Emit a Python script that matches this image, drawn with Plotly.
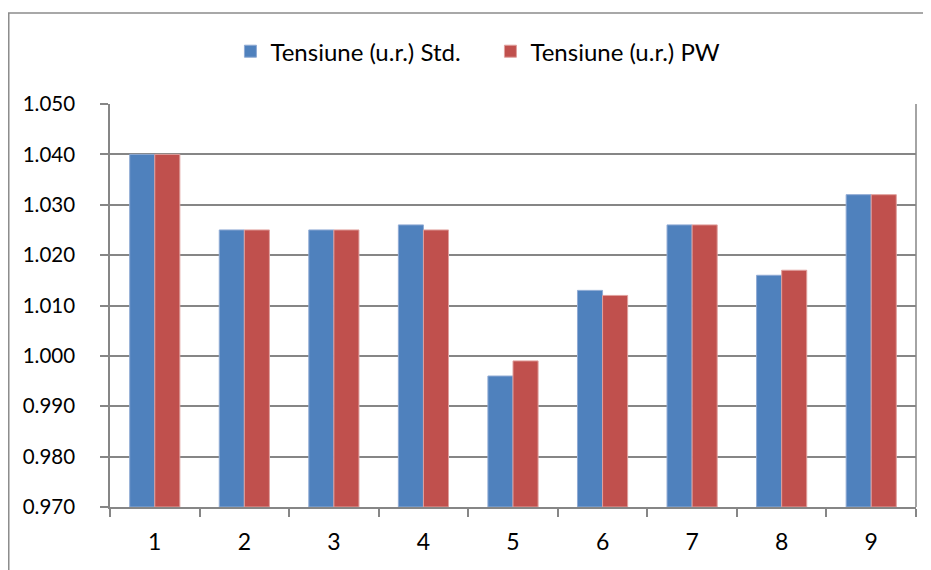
import plotly.graph_objects as go

categories = ["1", "2", "3", "4", "5", "6", "7", "8", "9"]
std_values = [1.040, 1.025, 1.025, 1.026, 0.996, 1.013, 1.026, 1.016, 1.032]
pw_values = [1.040, 1.025, 1.025, 1.025, 0.999, 1.012, 1.026, 1.017, 1.032]
y_ticks = [0.970, 0.980, 0.990, 1.000, 1.010, 1.020, 1.030, 1.040, 1.050]
y_tick_labels = ["0.970", "0.980", "0.990", "1.000", "1.010", "1.020", "1.030", "1.040", "1.050"]
BASE = 0.970

FONT = "Lato, Calibri, Carlito, sans-serif"
GRID = "#868686"

fig = go.Figure()
fig.add_trace(go.Bar(x=categories, y=[v - BASE for v in std_values], base=BASE,
                     name="Tensiune (u.r.) Std.",
                     marker=dict(color="#4F81BD", line=dict(color="#8FAAD4", width=1)),
                     hoverinfo="skip"))
fig.add_trace(go.Bar(x=categories, y=[v - BASE for v in pw_values], base=BASE,
                     name="Tensiune (u.r.) PW",
                     marker=dict(color="#C0504D", line=dict(color="#E0A09E", width=1)),
                     hoverinfo="skip"))

fig.update_layout(
    width=931, height=570,
    margin=dict(l=102, r=23, t=96, b=71, autoexpand=False),
    paper_bgcolor="white", plot_bgcolor="white",
    barmode="group", bargap=0.44, bargroupgap=0,
    font=dict(family=FONT, size=23, color="#000000"),
    legend=dict(orientation="h", x=0.472, xanchor="center", y=1.13, yanchor="middle",
                font=dict(size=24), itemwidth=30, entrywidth=215, entrywidthmode="pixels"),
    showlegend=True,
)
fig.update_yaxes(range=[0.970, 1.050], tickvals=y_ticks, ticktext=y_tick_labels,
                 tickfont=dict(size=20.5),
                 showgrid=True, gridcolor=GRID, gridwidth=1.5,
                 showline=True, linecolor=GRID, linewidth=1.5,
                 ticks="outside", ticklen=8, tickcolor=GRID, tickwidth=1.5,
                 ticklabelstandoff=21, zeroline=False, fixedrange=True)
fig.update_xaxes(showline=True, linecolor=GRID, linewidth=1.5,
                 ticks="outside", ticklen=8, tickcolor=GRID, tickwidth=1.5,
                 tickson="boundaries", showgrid=False, fixedrange=True,
                 ticklabelstandoff=14, range=[-0.5, 8.5])
fig.add_shape(type="line", xref="paper", yref="paper",
              x0=1.0, x1=1.0, y0=0, y1=1, line=dict(color=GRID, width=1.5))
# outer chart border (cropped at the right and bottom)
fig.add_shape(type="rect", xref="paper", yref="paper",
              x0=-0.1256, x1=1.2, y0=-0.3, y1=1.226,
              line=dict(color="#8C8C8C", width=1.5), layer="below")

fig.write_html("out.html")
